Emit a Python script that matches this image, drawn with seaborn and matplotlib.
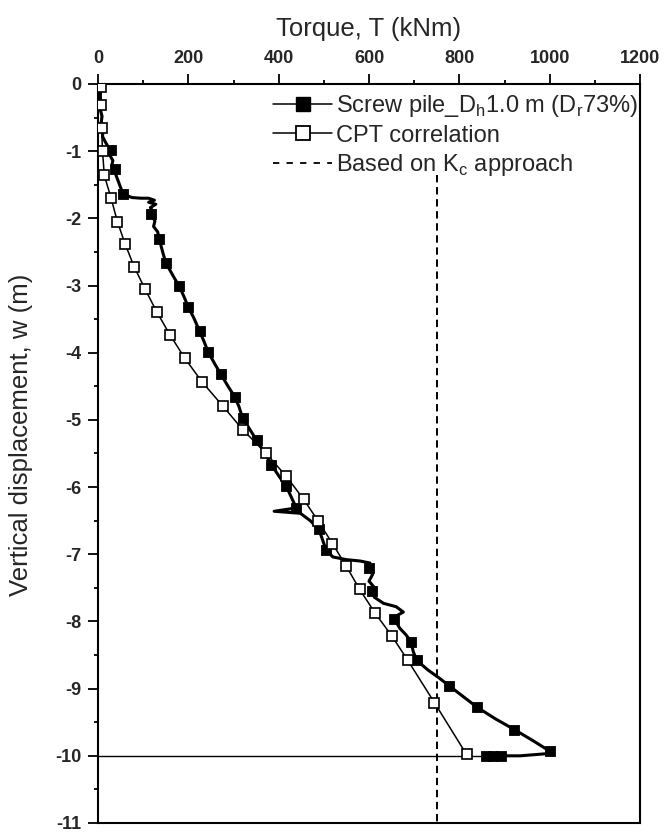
import numpy as np
import pandas as pd
import matplotlib
matplotlib.use("Agg")
from matplotlib import pyplot as plt
from matplotlib.lines import Line2D
from matplotlib.ticker import MultipleLocator
import seaborn as sns

# Screw pile installation record: torque (kNm) vs vertical displacement (m)
pile_torque = [2, 6, 3, 7, 5, 9, 7, 11, 10, 16, 22, 28, 26, 33, 31, 37, 40, 45, 50, 56,
               75, 95, 112, 125, 112, 128, 116, 121, 118, 126, 123, 132, 136, 140, 144, 150,
               160, 170, 180, 190, 200, 212, 225, 234, 244, 258, 272, 288, 303, 312, 320,
               336, 351, 368, 384, 400, 417, 428, 439, 390, 448, 470, 489, 497, 505, 520,
               550, 580, 602, 596, 608, 600, 610, 606, 612, 632, 660, 676, 660, 656, 668,
               682, 693, 698, 706, 730, 755, 778, 805, 840, 880, 922, 962, 1000, 1008, 935,
               892, 875, 860, 0]
pile_depth = [0.00, -0.08, -0.18, -0.28, -0.38, -0.48, -0.58, -0.68, -0.78, -0.86, -0.93,
              -0.98, -1.06, -1.14, -1.20, -1.27, -1.36, -1.45, -1.54, -1.64, -1.69, -1.70,
              -1.70, -1.73, -1.76, -1.79, -1.84, -1.89, -1.94, -2.04, -2.12, -2.20, -2.31,
              -2.42, -2.52, -2.66, -2.78, -2.90, -3.01, -3.16, -3.32, -3.48, -3.68, -3.82,
              -3.99, -4.16, -4.32, -4.50, -4.66, -4.80, -4.97, -5.14, -5.30, -5.48, -5.67,
              -5.83, -5.99, -6.15, -6.31, -6.36, -6.39, -6.50, -6.63, -6.78, -6.94, -7.04,
              -7.08, -7.10, -7.13, -7.20, -7.30, -7.40, -7.48, -7.54, -7.64, -7.73, -7.78,
              -7.86, -7.92, -7.96, -8.10, -8.20, -8.30, -8.45, -8.58, -8.72, -8.84, -8.96,
              -9.10, -9.28, -9.45, -9.61, -9.77, -9.93, -9.96, -10.0, -10.0, -10.0, -10.0,
              -10.0]

# filled symbols drawn on the pile record
pile_mark_torque = [28, 37, 56, 118, 136, 150, 180, 200, 225, 244, 272, 303, 320, 351, 384,
                    417, 439, 489, 505, 600, 606, 656, 693, 706, 778, 840, 922, 1000, 892,
                    875, 860]
pile_mark_depth = [-0.98, -1.27, -1.64, -1.94, -2.31, -2.66, -3.01, -3.32, -3.68, -3.99,
                   -4.32, -4.66, -4.97, -5.30, -5.67, -5.99, -6.31, -6.63, -6.94, -7.20,
                   -7.54, -7.96, -8.30, -8.58, -8.96, -9.28, -9.61, -9.93, -10.0, -10.0,
                   -10.0]

# CPT correlation prediction
cpt_torque = [7, 7, 8, 10, 14, 29, 43, 60, 80, 104, 130, 159, 192, 231, 276, 321, 371, 417,
              455, 487, 519, 550, 579, 614, 651, 686, 745, 816]
cpt_depth = [-0.04, -0.31, -0.65, -1.00, -1.36, -1.70, -2.05, -2.38, -2.72, -3.05, -3.39,
             -3.73, -4.08, -4.44, -4.79, -5.15, -5.49, -5.84, -6.18, -6.50, -6.84, -7.18,
             -7.52, -7.88, -8.22, -8.58, -9.21, -9.98]

# Kc approach: constant torque
kc_torque = [750, 750]
kc_depth = [-1.35, -11.0]

x_ticks = [0, 200, 400, 600, 800, 1000, 1200]
y_ticks = [0, -1, -2, -3, -4, -5, -6, -7, -8, -9, -10, -11]

legend_labels = [r"Screw pile_D$_\mathregular{h}$1.0 m (D$_\mathregular{r}$73%)",
                 "CPT correlation",
                 r"Based on K$_\mathregular{c}$ approach"]

sns.set_theme(style="ticks")
plt.rcParams['font.family'] = ['Liberation Sans', 'DejaVu Sans']
plt.rcParams['axes.unicode_minus'] = False
plt.rcParams['mathtext.fontset'] = 'custom'
plt.rcParams['mathtext.rm'] = 'Liberation Sans'

df_pile = pd.DataFrame({'T': pile_torque, 'w': pile_depth})
df_cpt = pd.DataFrame({'T': cpt_torque, 'w': cpt_depth})

fig = plt.figure(figsize=(6.66, 8.34), dpi=100)
ax = fig.add_axes([98 / 666, 1 - 823 / 834, 542 / 666, 739 / 834])

# measured record (noisy logger trace drawn heavier, the final unloading segment thin)
sns.lineplot(data=df_pile.iloc[:-1], x='T', y='w', sort=False, estimator=None,
             color='black', linewidth=2.2, ax=ax, zorder=2)
sns.lineplot(data=df_pile.iloc[-2:], x='T', y='w', sort=False, estimator=None,
             color='black', linewidth=1.0, ax=ax, zorder=2)
sns.scatterplot(x=pile_mark_torque, y=pile_mark_depth, marker='s', s=55, color='black',
                edgecolor='black', linewidth=0.6, ax=ax, zorder=3)

# CPT prediction on top
sns.lineplot(data=df_cpt, x='T', y='w', sort=False, estimator=None, color='black',
             linewidth=1.1, marker='s', markersize=7.6, markerfacecolor='white',
             markeredgecolor='black', markeredgewidth=1.2, ax=ax, zorder=4)

ax.plot(kc_torque, kc_depth, color='black', linewidth=1.4, linestyle=(0, (3.8, 2.4)),
        zorder=1)

ax.set_xlim(0, 1200)
ax.set_ylim(-11, 0)
ax.set_xticks(x_ticks)
ax.set_yticks(y_ticks)
ax.xaxis.set_minor_locator(MultipleLocator(100))
ax.yaxis.set_minor_locator(MultipleLocator(0.5))
ax.xaxis.tick_top()
ax.xaxis.set_label_position('top')
ax.tick_params(axis='both', which='major', direction='out', length=7, width=1.3,
               labelsize=13, pad=5, color='black')
ax.tick_params(axis='both', which='minor', direction='out', length=3.2, width=1.3,
               color='black')
ax.tick_params(axis='x', which='both', bottom=False, top=True, labelbottom=False, labeltop=True)
ax.tick_params(axis='y', which='both', right=False, left=True)
for lab in ax.get_xticklabels() + ax.get_yticklabels():
    lab.set_fontweight('bold')

for side in ['top', 'bottom', 'left', 'right']:
    ax.spines[side].set_visible(True)
    ax.spines[side].set_linewidth(1.5)
    ax.spines[side].set_color('black')

ax.set_xlabel('Torque, T (kNm)', fontsize=18.5, labelpad=10)
ax.set_ylabel('Vertical displacement, w (m)', fontsize=18.5)
ax.yaxis.set_label_coords(-0.12, 0.525)

handles = [
    Line2D([], [], color='black', linewidth=1.1, marker='s', markersize=10.5,
           markerfacecolor='black', markeredgecolor='black'),
    Line2D([], [], color='black', linewidth=1.1, marker='s', markersize=10.5,
           markerfacecolor='white', markeredgecolor='black', markeredgewidth=1.3),
    Line2D([], [], color='black', linewidth=1.3, linestyle=(0, (3.5, 4.0))),
]
ax.legend(handles, legend_labels, loc='upper right', bbox_to_anchor=(1.014, 1.0),
          frameon=False, fontsize=17, handlelength=2.5, handletextpad=0.15,
          labelspacing=0.22, borderaxespad=0.1, borderpad=0.3)

ax.grid(False)
fig.savefig('out.png', dpi=100)
plt.close(fig)
